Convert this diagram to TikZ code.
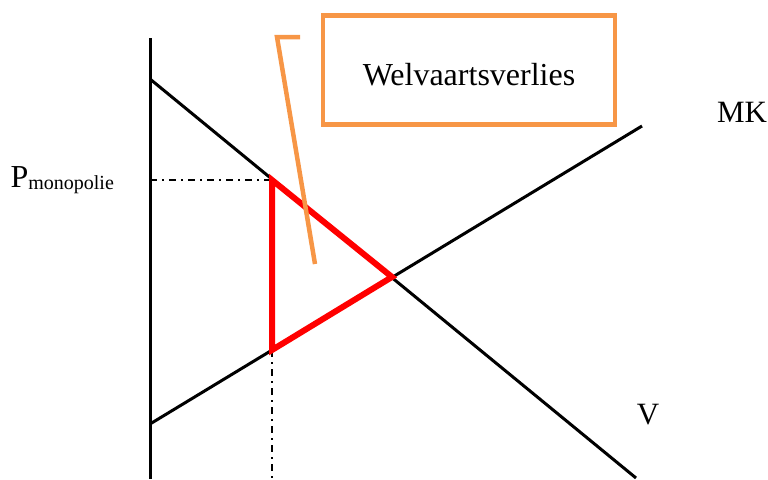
\documentclass[tikz,border=0pt]{standalone}
\usepackage{fontspec}
\setmainfont{Liberation Serif}
\begin{document}
\begin{tikzpicture}[x=1pt,y=-1pt]
\definecolor{color0}{HTML}{000000}
\definecolor{color1}{HTML}{F79646}
\definecolor{color2}{HTML}{FF0000}
\tikzset{curve/.style={color0,line width=3pt},
  helpline/.style={color0,line width=1.8pt,dash pattern=on 7pt off 5pt on 2pt off 5pt},
  lossline/.style={color2,line width=6pt,line join=miter},
  callout/.style={color1,line width=4.5pt},
  textlabel/.style={anchor=center,text=color0,font=\fontsize{31}{34}\selectfont}}
\useasboundingbox (0,0) rectangle (768,479);
\coordinate (axistop) at (150,38);
\coordinate (axisbot) at (150,479);
\coordinate (vstart) at (150,79);
\coordinate (vend) at (636,478);
\coordinate (mkstart) at (150,424);
\coordinate (mkend) at (642,126);
\coordinate (pmono) at (272,180);
\coordinate (eq) at (392,277);
\coordinate (qmono) at (272,350);
\coordinate (pleft) at (150,180);
\coordinate (qbot) at (272,479);
\coordinate (hookend) at (300,37);
\coordinate (hook) at (277,37);
\coordinate (tip) at (315,264);
\draw[curve] (axistop) -- (axisbot);
\draw[curve] (vstart) -- (vend);
\draw[curve] (mkstart) -- (mkend);
\draw[helpline] (pleft) -- (pmono);
\draw[helpline] (qmono) -- (qbot);
\draw[lossline] (pmono) -- (eq) -- (qmono) -- cycle;
\draw[callout] (hookend) -- (hook) -- (tip);
\node[callout,draw,minimum width=292pt,minimum height=109pt,textlabel,font=\fontsize{32}{34}\selectfont,text height=30pt,text depth=0pt] (loss) at (469,70) {Welvaartsverlies};
\node[textlabel] (mk) at (742,112) {MK};
\node[textlabel] (v) at (648,415) {V};
\node[textlabel,anchor=base west,font=\fontsize{32}{34}\selectfont] (p) at (7,187) {P\raisebox{-2pt}{\fontsize{20}{22}\selectfont monopolie}};
\end{tikzpicture}
\end{document}
